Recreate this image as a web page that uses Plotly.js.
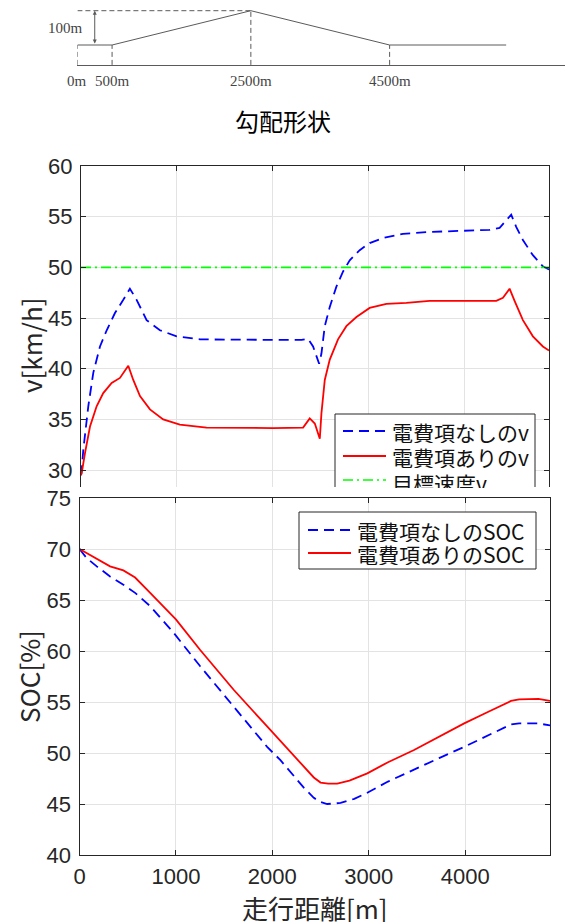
<!DOCTYPE html>
<html>
<head>
<meta charset="utf-8">
<script src="https://cdn.plot.ly/plotly-3.0.1.min.js"></script>
<style>html,body{margin:0;padding:0;background:#fff;}#chart{width:565px;height:922px;}</style>
</head>
<body>
<div id="chart"></div>
<script>
// ---- gradient profile (schematic) ----
const gradeDist = [0, 500, 2500, 4500, 6180];
const gradeElev = [0, 0, 100, 0, 0];
const gradeTickDist = [0, 500, 2500, 4500];
const gradeTickLabels = ['0m', '500m', '2500m', '4500m'];
const gradeRiseLabel = '100m';
const gradeTitle = '勾配形状';

// ---- velocity ----
const distVNone = [0, 7, 24, 76, 128, 198, 268, 354, 441, 510, 580, 684, 823, 997, 1240, 1600, 2000, 2300, 2368, 2420, 2483, 2507, 2542, 2594, 2663, 2733, 2802, 2906, 3010, 3149, 3357, 3635, 4017, 4260, 4365, 4486, 4538, 4608, 4712, 4816, 4880];
const vNone = [29.5, 30.0, 32.0, 36.3, 39.6, 42.2, 43.8, 45.5, 46.8, 47.9, 46.8, 44.8, 43.8, 43.2, 42.9, 42.85, 42.85, 42.85, 42.95, 42.2, 40.5, 41.5, 44.2, 46.1, 48.1, 49.6, 50.7, 51.7, 52.4, 52.9, 53.3, 53.5, 53.6, 53.7, 53.9, 55.2, 54.0, 52.7, 51.2, 50.1, 49.8];
const distVWith = [0, 7, 42, 94, 163, 232, 320, 406, 493, 545, 615, 719, 857, 1031, 1309, 1700, 2000, 2316, 2385, 2438, 2490, 2507, 2542, 2594, 2680, 2767, 2872, 3010, 3184, 3393, 3635, 4000, 4330, 4400, 4469, 4521, 4608, 4712, 4816, 4880];
const vWith = [29.5, 29.7, 31.7, 34.3, 36.3, 37.6, 38.6, 39.1, 40.3, 38.9, 37.3, 36.0, 35.0, 34.5, 34.2, 34.15, 34.15, 34.2, 35.1, 34.6, 33.1, 35.6, 38.9, 40.9, 42.9, 44.2, 45.1, 46.0, 46.4, 46.5, 46.7, 46.7, 46.7, 47.0, 47.9, 46.7, 44.8, 43.2, 42.2, 41.8];
const distTarget = [0, 4880];
const vTarget = [50, 50];

// ---- SOC ----
const distSocNone = [0, 75, 179, 317, 455, 577, 733, 975, 1252, 1599, 1946, 2084, 2200, 2326, 2430, 2500, 2569, 2708, 2850, 2985, 3200, 3470, 3730, 3990, 4230, 4475, 4560, 4649, 4760, 4880];
const socNone = [70.0, 69.1, 68.3, 67.3, 66.5, 65.7, 64.4, 61.8, 58.5, 54.6, 50.6, 49.3, 48.0, 46.6, 45.6, 45.2, 45.0, 45.1, 45.5, 46.1, 47.2, 48.4, 49.5, 50.6, 51.7, 52.8, 52.9, 52.9, 52.9, 52.7];
const distSocWith = [0, 75, 179, 317, 455, 577, 733, 1000, 1252, 1599, 1946, 2200, 2326, 2430, 2500, 2580, 2673, 2800, 2985, 3200, 3470, 3730, 3990, 4230, 4475, 4560, 4649, 4760, 4880];
const socWith = [70.0, 69.6, 69.0, 68.3, 67.9, 67.2, 65.7, 63.1, 60.1, 56.2, 52.6, 50.0, 48.7, 47.6, 47.1, 47.0, 47.0, 47.3, 48.0, 49.1, 50.3, 51.6, 52.9, 54.0, 55.1, 55.25, 55.3, 55.3, 55.1];

const nameVNone = '電費項なしのv';
const nameVWith = '電費項ありのv';
const nameTarget = '目標速度v';
const nameSocNone = '電費項なしのSOC';
const nameSocWith = '電費項ありのSOC';
const yTitleV = 'v[km/h]';
const yTitleSoc = 'SOC[%]';
const xTitle = '走行距離[m]';

// ---- layout helpers ----
const W = 565, H = 922;
const px = v => v / W;
const py = v => 1 - v / H;
const AX = '#262626';
const GRID = '#e3e3e3';
const TICKFONT = {family: 'Liberation Sans, Arial, sans-serif', size: 22, color: AX};
const JP = 'Noto Sans CJK JP, sans-serif';
const GRAY = '#5a5a5a';
const SERIF = 'Liberation Serif, Times New Roman, serif';

const BLUE = {color: '#0000ff', width: 1.8, dash: '10px,6px'};
const RED = {color: '#ff0000', width: 1.8};
const GREEN = {color: '#00ff00', width: 1.6, dash: '10px,4px,2px,4px'};

const traces = [
  {x: gradeDist, y: gradeElev, xaxis: 'x3', yaxis: 'y3', mode: 'lines', line: {color: GRAY, width: 1}, hoverinfo: 'skip', showlegend: false},
  {x: distVNone, y: vNone, xaxis: 'x', yaxis: 'y', mode: 'lines', name: nameVNone, line: BLUE, showlegend: false},
  {x: distVWith, y: vWith, xaxis: 'x', yaxis: 'y', mode: 'lines', name: nameVWith, line: RED, showlegend: false},
  {x: distTarget, y: vTarget, xaxis: 'x', yaxis: 'y', mode: 'lines', name: nameTarget, line: GREEN, showlegend: false},
  {x: distSocNone, y: socNone, xaxis: 'x2', yaxis: 'y2', mode: 'lines', name: nameSocNone, line: BLUE, showlegend: false},
  {x: distSocWith, y: socWith, xaxis: 'x2', yaxis: 'y2', mode: 'lines', name: nameSocWith, line: RED, showlegend: false}
];

const shapes = [];
const annotations = [];
const C = {xanchor: 'center', yanchor: 'middle', showarrow: false};

// gradient schematic guides
const peakIdx = gradeElev.indexOf(Math.max(...gradeElev));
gradeTickDist.forEach((d, i) => {
  const e = gradeElev[gradeDist.indexOf(d)];
  shapes.push({type: 'line', xref: 'x3', yref: 'y3', x0: d, x1: d, y0: -58, y1: e, line: {color: GRAY, width: 1, dash: '5px,3px'}});
  annotations.push(Object.assign({xref: 'x3', yref: 'paper', x: d, y: py(81), text: gradeTickLabels[i], font: {family: SERIF, size: 15, color: '#444'}}, C));
});
shapes.push({type: 'line', xref: 'x3', yref: 'y3', x0: 0, x1: gradeDist[peakIdx], y0: gradeElev[peakIdx], y1: gradeElev[peakIdx], line: {color: GRAY, width: 1, dash: '5px,3px'}});
annotations.push({xref: 'x3', yref: 'y3', axref: 'x3', ayref: 'y3', x: 250, y: gradeElev[peakIdx], ax: 250, ay: 0, text: '', showarrow: true, arrowside: 'end+start', arrowhead: 2, arrowsize: 0.8, arrowwidth: 1, arrowcolor: GRAY});
annotations.push({xref: 'x3', yref: 'y3', x: 250, y: gradeElev[peakIdx] / 2, text: gradeRiseLabel, showarrow: false, xanchor: 'right', yanchor: 'middle', xshift: -10, font: {family: SERIF, size: 15, color: '#444'}});
annotations.push(Object.assign({xref: 'paper', yref: 'paper', x: px(283), y: py(120), text: gradeTitle, font: {family: JP, size: 24, color: '#000'}}, C));

// axis titles
annotations.push(Object.assign({xref: 'paper', yref: 'paper', x: px(30), y: py(345), text: yTitleV, textangle: -90, font: {family: JP, size: 26, color: AX}}, C));
annotations.push(Object.assign({xref: 'paper', yref: 'paper', x: px(28), y: py(677), text: yTitleSoc, textangle: -90, font: {family: JP, size: 26, color: AX}}, C));
annotations.push(Object.assign({xref: 'paper', yref: 'paper', x: px(315), y: py(907), text: xTitle, font: {family: JP, size: 26, color: AX}}, C));

// ---- legends (drawn as boxes, sample lines and text) ----
function legendBox(x0, x1, y0, y1, openBottom) {
  shapes.push({type: 'rect', xref: 'paper', yref: 'paper', x0: px(x0), x1: px(x1), y0: py(y1), y1: py(y0), fillcolor: '#fff', line: {width: 0}, layer: 'above'});
  const path = openBottom
    ? `M${px(x0)},${py(y1)} L${px(x0)},${py(y0)} L${px(x1)},${py(y0)} L${px(x1)},${py(y1)}`
    : `M${px(x0)},${py(y1)} L${px(x0)},${py(y0)} L${px(x1)},${py(y0)} L${px(x1)},${py(y1)} Z`;
  shapes.push({type: 'path', xref: 'paper', yref: 'paper', path: path, line: {color: AX, width: 1}, layer: 'above'});
}
function legendItem(lx0, lx1, tx, yy, line, label, clipH) {
  shapes.push({type: 'line', xref: 'paper', yref: 'paper', x0: px(lx0), x1: px(lx1), y0: py(yy), y1: py(yy), line: line, layer: 'above'});
  const a = {xref: 'paper', yref: 'paper', x: px(tx), y: py(yy), text: label, showarrow: false, xanchor: 'left', yanchor: 'middle', font: {family: JP, size: 21, color: '#111'}, borderpad: 0, height: 23, valign: 'middle'};
  if (clipH) { a.y = py(yy - 13); a.yanchor = 'top'; a.height = clipH; a.valign = 'top'; }
  annotations.push(a);
}
legendBox(335, 535, 414, 487, true);
legendItem(343, 386, 391, 431, BLUE, nameVNone);
legendItem(343, 386, 391, 456, RED, nameVWith);
legendItem(343, 386, 391, 480, GREEN, nameTarget, 20);

legendBox(299, 536, 512, 569, false);
legendItem(308, 351, 356, 530, BLUE, nameSocNone);
legendItem(308, 351, 356, 553, RED, nameSocWith);

const layout = {
  width: W, height: H,
  margin: {l: 0, r: 0, t: 0, b: 0},
  paper_bgcolor: '#fff', plot_bgcolor: '#fff',
  showlegend: false,
  xaxis3: {domain: [px(77.4), 1], range: [0, 7028], anchor: 'y3', showline: true, linecolor: GRAY, linewidth: 1, showgrid: false, zeroline: false, showticklabels: false, ticks: ''},
  yaxis3: {domain: [py(65), 1], range: [-58.3, 131.2], anchor: 'x3', visible: false},
  xaxis: {domain: [px(81), px(549)], range: [0, 4880], anchor: 'y', side: 'top', showline: true, linecolor: AX, linewidth: 1, ticks: 'inside', ticklen: 5, tickcolor: AX, dtick: 1000, tick0: 0, showticklabels: false, showgrid: true, gridcolor: GRID, zeroline: false},
  yaxis: {domain: [py(487), py(166)], range: [28.34, 60], anchor: 'x', showline: true, mirror: 'ticks', linecolor: AX, linewidth: 1, ticks: 'inside', ticklen: 5, tickcolor: AX, dtick: 5, tick0: 0, tickfont: TICKFONT, ticklabelstandoff: 3, showgrid: true, gridcolor: GRID, zeroline: false},
  xaxis2: {domain: [px(79.5), px(550)], range: [0, 4880], anchor: 'y2', showline: true, mirror: 'ticks', linecolor: AX, linewidth: 1, ticks: 'inside', ticklen: 5, tickcolor: AX, dtick: 1000, tick0: 0, tickfont: TICKFONT, ticklabelstandoff: 2, showgrid: true, gridcolor: GRID, zeroline: false},
  yaxis2: {domain: [py(855), py(498)], range: [40, 75], anchor: 'x2', showline: true, mirror: 'ticks', linecolor: AX, linewidth: 1, ticks: 'inside', ticklen: 5, tickcolor: AX, dtick: 5, tick0: 0, tickfont: TICKFONT, ticklabelstandoff: 3, showgrid: true, gridcolor: GRID, zeroline: false},
  shapes: shapes,
  annotations: annotations
};

Plotly.newPlot('chart', traces, layout, {staticPlot: true, displayModeBar: false});
</script>
</body>
</html>
